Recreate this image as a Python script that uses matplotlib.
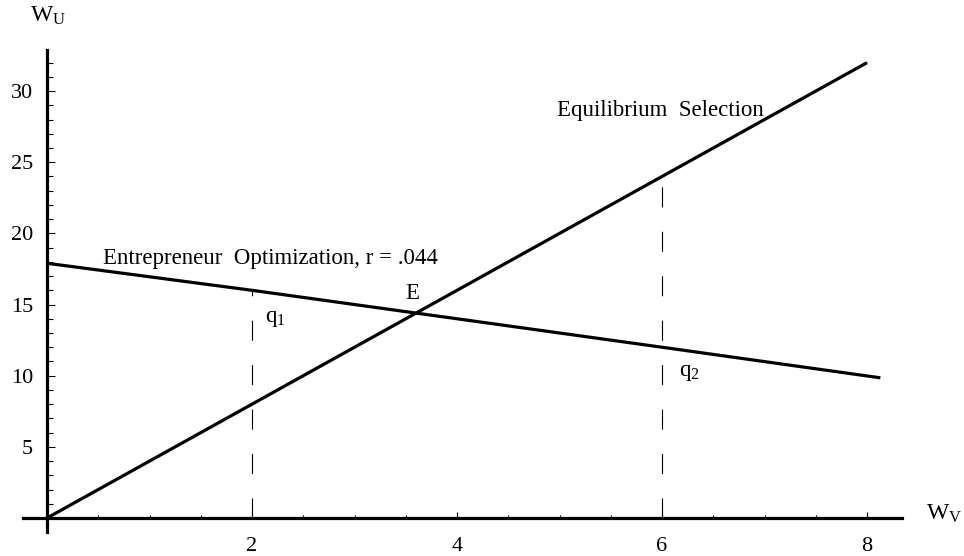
import matplotlib
matplotlib.use("Agg")
import matplotlib.pyplot as plt
from matplotlib.ticker import FixedLocator

plt.rcParams['font.family'] = ['Liberation Serif', 'DejaVu Serif']
plt.rcParams['mathtext.fontset'] = 'custom'
plt.rcParams['mathtext.rm'] = 'Liberation Serif'
plt.rcParams['mathtext.it'] = 'Liberation Serif'

# values
eq_x = [0, 2, 3, 3.6, 6, 8]
eq_y = [0, 8, 12, 14.4, 24, 32]
ent_x = [0, 2, 3.6, 6, 8.13]
ent_y = [17.9, 16, 14.4, 12, 9.85]
q_x = [2, 6]
q_top = [16, 24]
x_ticks = [2, 4, 6, 8]
y_ticks = [5, 10, 15, 20, 25, 30]
x_minor = [0.5, 1, 1.5, 2.5, 3, 3.5, 4.5, 5, 5.5, 6.5, 7, 7.5]
y_minor = [v for v in range(1, 33) if v % 5 != 0]

fig = plt.figure(figsize=(9.64, 5.56), dpi=100)
ax = fig.add_axes([0, 0, 1, 1])
ax.set_xlim(-0.459, 8.946)
ax.set_ylim(-2.67, 36.4)

# axes drawn through the origin
for side in ["top", "right"]:
    ax.spines[side].set_visible(False)
ax.spines["left"].set_position(("data", 0))
ax.spines["bottom"].set_position(("data", 0))
ax.spines["left"].set_bounds(-1.0, 32.9)
ax.spines["bottom"].set_bounds(-0.23, 8.34)
ax.spines["left"].set_linewidth(2.3)
ax.spines["bottom"].set_linewidth(2.3)

ax.set_xticks(x_ticks)
ax.set_yticks(y_ticks)
ax.xaxis.set_minor_locator(FixedLocator(x_minor))
ax.yaxis.set_minor_locator(FixedLocator(y_minor))
ax.tick_params(axis="both", which="both", direction="in", width=0.8, labelsize=16)
ax.tick_params(axis="y", which="major", length=6, pad=10)
ax.tick_params(axis="y", which="minor", length=4)
ax.tick_params(axis="x", which="major", length=4, pad=14)
ax.tick_params(axis="x", which="minor", length=2.5)

# main curves
ax.plot(eq_x, eq_y, color="black", lw=2.3, solid_capstyle="butt")
ax.plot(ent_x, ent_y, color="black", lw=2.3, solid_capstyle="butt")

# dashed drop lines
for qx, qt in zip(q_x, q_top):
    ax.plot([qx, qx], [0, qt], color="black", lw=0.8,
            linestyle=(0, (18, 22)))

ax.text(4.98, 28.25, "Equilibrium  Selection", fontsize=16.5)
ax.text(0.55, 17.85, "Entrepreneur  Optimization, r = .044", fontsize=16.5)
ax.text(3.5, 15.4, "E", fontsize=16.5)
ax.text(2.13, 13.8, r"q$_1$", fontsize=16.5)
ax.text(6.17, 9.95, r"q$_2$", fontsize=16.5)
ax.text(-0.17, 34.9, r"W$_\mathrm{U}$", fontsize=17)
ax.text(8.58, -0.15, r"W$_\mathrm{V}$", fontsize=17)

fig.savefig("out.png", dpi=100)
